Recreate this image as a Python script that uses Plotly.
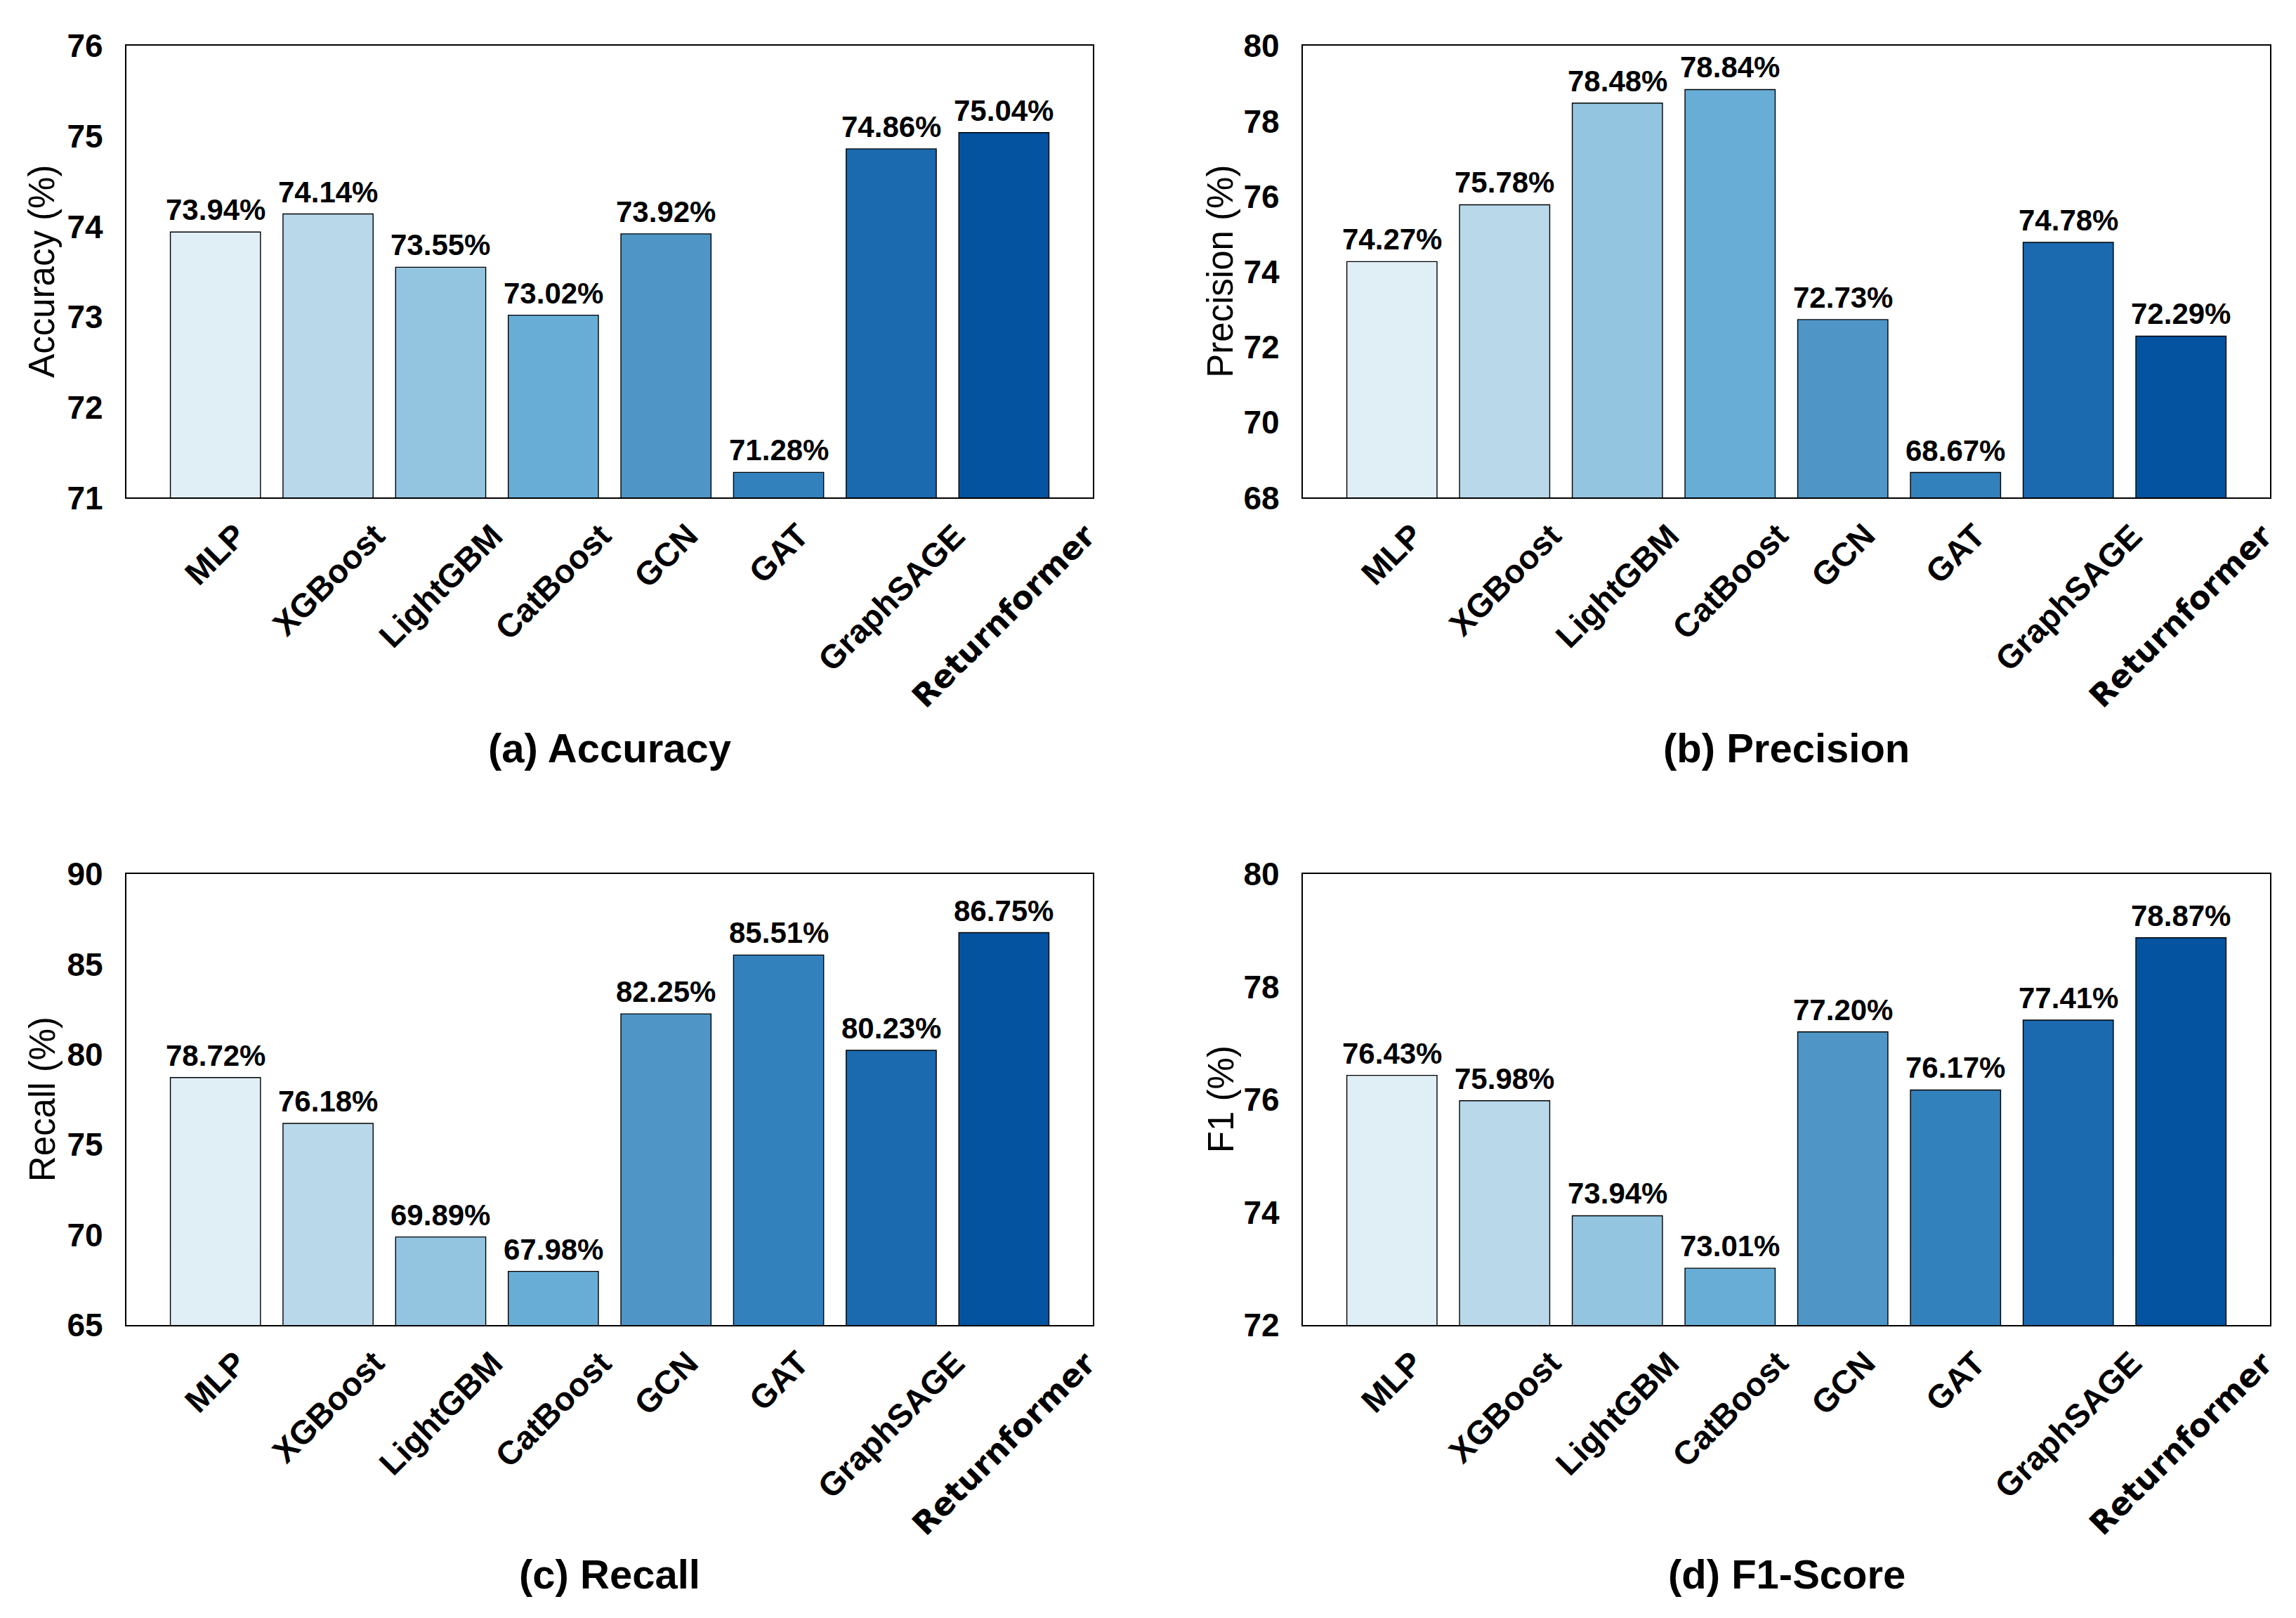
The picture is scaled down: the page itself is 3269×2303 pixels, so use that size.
import plotly.graph_objects as go

models = ["MLP", "XGBoost", "LightGBM", "CatBoost", "GCN", "GAT", "GraphSAGE", "Returnformer"]
accuracy = [73.94, 74.14, 73.55, 73.02, 73.92, 71.28, 74.86, 75.04]
precision = [74.27, 75.78, 78.48, 78.84, 72.73, 68.67, 74.78, 72.29]
recall = [78.72, 76.18, 69.89, 67.98, 82.25, 85.51, 80.23, 86.75]
f1 = [76.43, 75.98, 73.94, 73.01, 77.20, 76.17, 77.41, 78.87]

colors = ["#e0eef6", "#b9d9eb", "#93c4e0", "#68add6", "#4f96c7", "#3381bc", "#1b69af", "#0353a1"]

panels = [
    dict(values=accuracy, ytitle="Accuracy (%)", sub="(a) Accuracy", yrange=[71, 76], dtick=1),
    dict(values=precision, ytitle="Precision (%)", sub="(b) Precision", yrange=[68, 80], dtick=2),
    dict(values=recall, ytitle="Recall (%)", sub="(c) Recall", yrange=[65, 90], dtick=5),
    dict(values=f1, ytitle="F1 (%)", sub="(d) F1-Score", yrange=[72, 80], dtick=2),
]

W, H = 3269, 2303
xdoms = [[172 / W, 1548 / W], [1847 / W, 3224 / W]]
ydoms = [[1 - 690 / H, 1 - 32 / H], [1 - 1895 / H, 1 - 1238 / H]]
sub_y = [1 - 1054 / H, 1 - 2257 / H]
ytitle_x = [52 / W, 1730 / W]

FONT = "Liberation Sans, Arial, sans-serif"
BOLD_ALT = "DejaVu Sans, sans-serif"

fig = go.Figure()
annotations = []
layout = {}

for i, p in enumerate(panels):
    col = i % 2
    row = i // 2
    n = i + 1
    xa = "x" if n == 1 else f"x{n}"
    ya = "y" if n == 1 else f"y{n}"
    fig.add_trace(go.Bar(
        x=models, y=p["values"], xaxis=xa, yaxis=ya,
        width=0.8,
        marker=dict(color=colors, line=dict(color="black", width=1.4)),
        showlegend=False, hoverinfo="skip",
    ))
    layout["xaxis" if n == 1 else f"xaxis{n}"] = dict(
        domain=xdoms[col], anchor=ya, type="category",
        range=[-0.79, 7.79], showticklabels=False, ticks="",
        showline=True, linecolor="black", linewidth=2.2, mirror=True,
        showgrid=False, zeroline=False,
    )
    layout["yaxis" if n == 1 else f"yaxis{n}"] = dict(
        domain=ydoms[row], anchor=xa, range=p["yrange"], dtick=p["dtick"],
        tick0=p["yrange"][0],
        ticks="", ticklabelstandoff=22,
        tickfont=dict(family=FONT, size=46, color="black", weight="bold"),
        showline=True, linecolor="black", linewidth=2.2, mirror=True,
        showgrid=False, zeroline=False,
    )
    # y-axis title
    annotations.append(dict(
        x=ytitle_x[col], y=(ydoms[row][0] + ydoms[row][1]) / 2,
        xref="paper", yref="paper", text=p["ytitle"], textangle=-90,
        showarrow=False, xanchor="center", yanchor="middle",
        font=dict(family=FONT, size=51, color="black"),
    ))
    # value labels
    for m, v in zip(models, p["values"]):
        annotations.append(dict(
            x=m, y=v, xref=xa, yref=ya, text=f"{v:.2f}%",
            showarrow=False, xanchor="center", yanchor="bottom", yshift=6,
            font=dict(family=FONT, size=42, color="black", weight="bold"),
        ))
    # category labels
    for m in models:
        is_ours = m == "Returnformer"
        annotations.append(dict(
            x=m, y=ydoms[row][0], xref=xa, yref="paper", text=m,
            showarrow=False, xanchor="center", yanchor="top", yshift=-24,
            textangle=-45,
            font=dict(family=BOLD_ALT if is_ours else FONT,
                      size=45 if is_ours else 47, color="black", weight="bold"),
        ))
    # subtitle
    annotations.append(dict(
        x=(xdoms[col][0] + xdoms[col][1]) / 2, y=sub_y[row],
        xref="paper", yref="paper", text=p["sub"], showarrow=False,
        xanchor="center", yanchor="middle",
        font=dict(family=FONT, size=58, color="black", weight="bold"),
    ))

fig.update_layout(
    width=W, height=H, margin=dict(l=0, r=0, t=0, b=0),
    paper_bgcolor="white", plot_bgcolor="white",
    annotations=annotations, **layout,
)

fig.write_html("out.html")
